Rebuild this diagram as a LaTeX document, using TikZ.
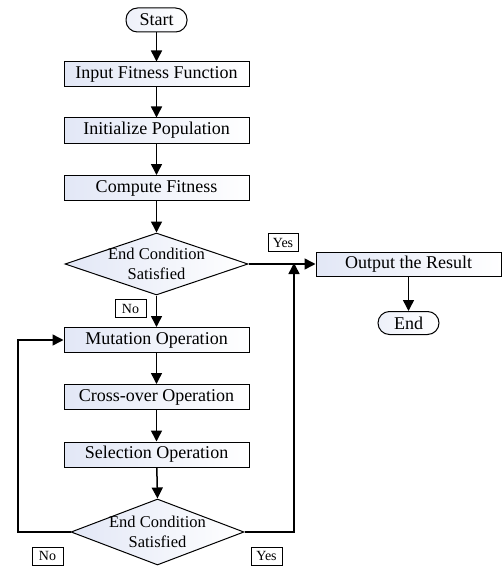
\documentclass[tikz,border=0pt]{standalone}
\usepackage{fontspec}
\setmainfont{Liberation Serif}
\newfontfamily\timesfont{Liberation Serif}
\usetikzlibrary{shapes.geometric,arrows.meta}
\definecolor{boxtint}{RGB}{226,231,246}
\tikzset{
  procbox/.style={draw, line width=1pt, rectangle, minimum width=185pt, minimum height=25pt,
    inner sep=0pt, left color=boxtint, right color=white, font=\timesfont\fontsize{18}{20}\selectfont},
  termbox/.style={draw, line width=1pt, rectangle, rounded corners=11.5pt, minimum width=61pt,
    minimum height=24pt, inner sep=0pt, left color=boxtint!60, right color=white,
    font=\timesfont\fontsize{18}{20}\selectfont},
  decbox/.style={draw, line width=1pt, diamond, inner sep=0pt, left color=boxtint, right color=white},
  dectext/.style={align=center, font=\timesfont\fontsize{16.5}{19.5}\selectfont, inner sep=0pt},
  tagbox/.style={draw, line width=0.8pt, fill=white, inner sep=0pt, minimum height=18pt,
    font=\timesfont\fontsize{14}{16}\selectfont},
  flow/.style={line width=1.5pt, -{Triangle[length=11pt,width=11pt]}},
}
\begin{document}
\begin{tikzpicture}[x=1pt, y=-1pt]
\useasboundingbox (0,0) rectangle (502,567);
\node[termbox] (start) at (156.5,20) {Start};
\node[procbox] (input) at (156.5,74.5) {Input Fitness Function};
\node[procbox] (init) at (156.5,130.5) {Initialize Population};
\node[procbox] (comp) at (156.5,188) {Compute Fitness};
\node[decbox, minimum width=183pt, minimum height=62pt] (d1) at (156.5,264) {};
\node[dectext] (d1t) at (156.5,264) {End Condition\\Satisfied};
\node[procbox] (mut) at (156.5,340) {Mutation Operation};
\node[procbox] (cross) at (156.5,397) {Cross-over Operation};
\node[procbox] (sel) at (156.5,454.5) {Selection Operation};
\node[decbox, minimum width=173pt, minimum height=66pt] (d2) at (157.5,532) {};
\node[dectext] (d2t) at (157.5,532) {End Condition\\Satisfied};
\node[procbox, minimum height=24pt] (out) at (408.5,264) {Output the Result};
\node[termbox, minimum height=23pt] (end) at (408.5,323) {End};

\node[tagbox, minimum width=30pt] (yes1) at (283,242.5) {Yes};
\node[tagbox, minimum width=31pt] (no1) at (130.5,308.5) {No};
\node[tagbox, minimum width=31pt] (no2) at (47.5,556) {No};
\node[tagbox, minimum width=31pt] (yes2) at (266.5,556) {Yes};

\coordinate (lc1) at (18,532);
\coordinate (lc2) at (18,340);
\coordinate (rc1) at (294,532);
\coordinate (rc2) at (294,264);

\draw[flow] (start) -- (input);
\draw[flow] (input) -- (init);
\draw[flow] (init) -- (comp);
\draw[flow] (comp) -- (d1.north);
\draw[flow] (d1.east) -- (out.west);
\draw[flow] (d1.south) -- (mut.north);
\draw[flow] (mut) -- (cross);
\draw[flow] (cross) -- (sel);
\draw[flow] (sel) -- (d2.north);
\draw[flow] (out) -- (end);
\draw[flow] (d2.west) -- (lc1) -- (lc2) -- (mut.west);
\draw[flow] (d2.east) -- (rc1) -- ([yshift=1pt]rc2);
\end{tikzpicture}
\end{document}
